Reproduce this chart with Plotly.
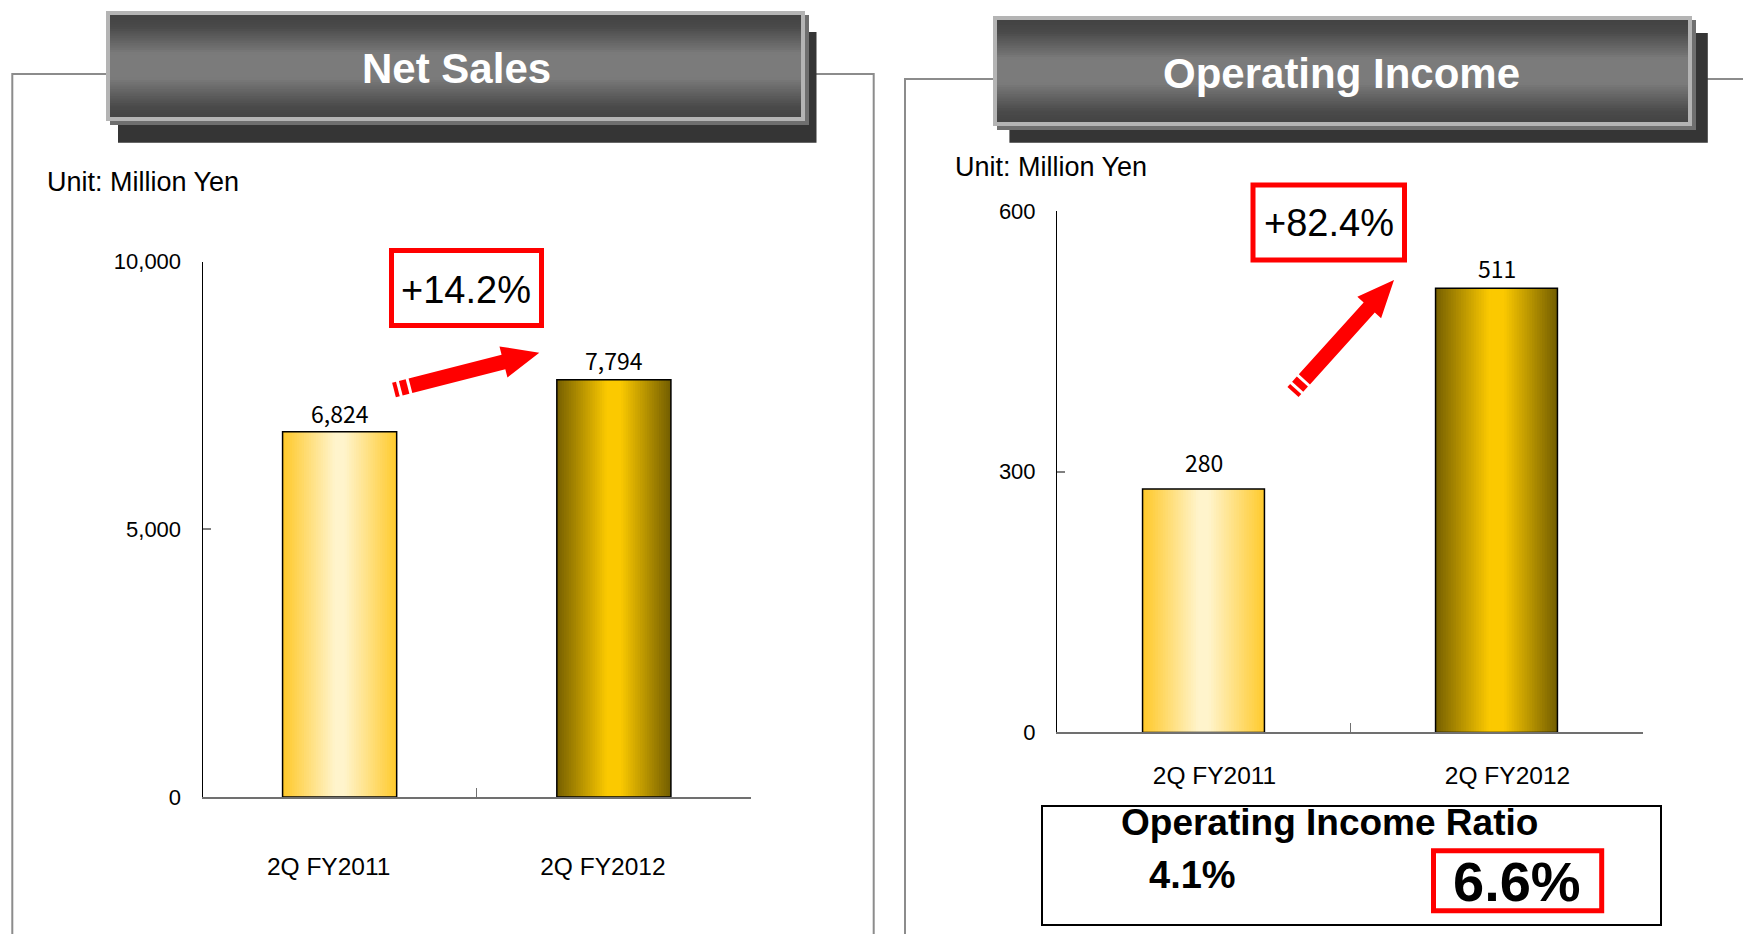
import math
import plotly.graph_objects as go

# ---------------- data ----------------
categories = ["2Q FY2011", "2Q FY2012"]
net_sales = [6824, 7794]
operating_income = [280, 511]
net_sales_labels = ["6,824", "7,794"]
op_income_labels = ["280", "511"]
net_sales_growth = "+14.2%"
op_income_growth = "+82.4%"
ratio_title = "Operating Income Ratio"
op_income_ratio = ["4.1%", "6.6%"]
net_sales_ticks = [0, 5000, 10000]
op_income_ticks = [0, 300, 600]
unit_label = "Unit: Million Yen"
panel_titles = ["Net Sales", "Operating Income"]

# ---------------- helpers / styles ----------------
W, H = 1751, 934
OFF = 8  # page body margin compensation
FONT = "Liberation Sans, Arial, sans-serif"
NUMFONT = "Noto Sans CJK JP, Liberation Sans, sans-serif"


def px(x):
    return (x - OFF) / W


def py(y):
    return 1 - (y - OFF) / H


def hex2rgb(h):
    h = h.lstrip("#")
    return tuple(int(h[i:i + 2], 16) for i in (0, 2, 4))


def interp(stops, t):
    for (t0, c0), (t1, c1) in zip(stops[:-1], stops[1:]):
        if t0 <= t <= t1:
            a = 0 if t1 == t0 else (t - t0) / (t1 - t0)
            r0, g0, b0 = hex2rgb(c0)
            r1, g1, b1 = hex2rgb(c1)
            return "rgb(%d,%d,%d)" % (round(r0 + (r1 - r0) * a),
                                      round(g0 + (g1 - g0) * a),
                                      round(b0 + (b1 - b0) * a))
    return stops[-1][1]


GRAD_LIGHT = [(0, "#FFC828"), (0.46, "#FFF4CC"), (0.54, "#FFF4CC"), (1, "#FFCA2C")]
GRAD_DARK = [(0, "#766000"), (0.44, "#FBC900"), (0.56, "#FBC900"), (1, "#725D00")]
GRAD_TITLE = [(0, "#424242"), (0.12, "#4a4a4a"), (0.38, "#7b7b7b"),
              (0.62, "#7b7b7b"), (0.9, "#4a4a4a"), (1, "#444444")]
BAR_W = 0.416
N_SLICES = 48

fig = go.Figure()


def add_gradient_bars(xs, ys, xa, ya):
    step = BAR_W / N_SLICES
    for i in range(N_SLICES):
        t = (i + 0.5) / N_SLICES
        off = -BAR_W / 2 + i * step
        wdt = min(step * 1.8, BAR_W / 2 - off)
        fig.add_trace(go.Bar(
            x=xs, y=ys, offset=off, width=wdt,
            marker=dict(color=[interp(GRAD_LIGHT, t), interp(GRAD_DARK, t)],
                        line=dict(width=0)),
            xaxis=xa, yaxis=ya, showlegend=False, hoverinfo="skip"))
    fig.add_trace(go.Bar(
        x=xs, y=ys, offset=-BAR_W / 2, width=BAR_W,
        marker=dict(color="rgba(0,0,0,0)", line=dict(color="black", width=1.5)),
        xaxis=xa, yaxis=ya, showlegend=False, hoverinfo="skip"))


add_gradient_bars(categories, net_sales, "x", "y")
add_gradient_bars(categories, operating_income, "x2", "y2")

shapes = []
annotations = []


def rect(x0, y0, x1, y1, fill=None, line=None, lw=0):
    shapes.append(dict(type="rect", xref="paper", yref="paper",
                       x0=px(x0), x1=px(x1), y0=py(y1), y1=py(y0),
                       fillcolor=fill if fill else "rgba(0,0,0,0)",
                       line=dict(color=line if line else "rgba(0,0,0,0)", width=lw)))


def text(x, y, s, size, color="black", family=FONT, xanchor="center", yanchor="middle"):
    annotations.append(dict(xref="paper", yref="paper", x=px(x), y=py(y), text=s,
                            showarrow=False, xanchor=xanchor, yanchor=yanchor,
                            font=dict(family=family, size=size, color=color)))


def title_box(x0, y0, x1, y1, shadow, label, cx, cy):
    sx0, sy0, sx1, sy1 = shadow
    rect(sx0, sy0, sx1, sy1, fill="#353535")
    rect(x0 + 4, y0 + 4, x1 + 4, y1 + 4, fill="#6f6f6f")
    rect(x0, y0, x1, y1, fill="#B4B4B4")
    ix0, iy0, ix1, iy1 = x0 + 4, y0 + 4, x1 - 4, y1 - 4
    n = 44
    hstep = (iy1 - iy0) / n
    for i in range(n):
        t = (i + 0.5) / n
        ya = iy0 + i * hstep
        yb = min(iy1, ya + hstep * 1.8)
        rect(ix0, ya, ix1, yb, fill=interp(GRAD_TITLE, t))
    text(cx, cy, "<b>%s</b>" % label, 42, color="white")


def arrow(tail, tip, shaft_w, head_w, head_len):
    dx, dy = tip[0] - tail[0], tip[1] - tail[1]
    L = math.hypot(dx, dy)
    ux, uy = dx / L, dy / L
    nx, ny = -uy, ux

    def pt(s, o):
        return (tail[0] + ux * s + nx * o, tail[1] + uy * s + ny * o)

    def poly(pts):
        d = "M " + " L ".join("%.5f,%.5f" % (px(a), py(b)) for a, b in pts) + " Z"
        shapes.append(dict(type="path", xref="paper", yref="paper", path=d,
                           fillcolor="#FF0000", line=dict(width=0)))

    hw = shaft_w / 2
    for s0, s1 in [(0, 4), (7, 14)]:
        poly([pt(s0, -hw), pt(s1, -hw), pt(s1, hw), pt(s0, hw)])
    sb = L - head_len
    poly([pt(17, -hw), pt(sb, -hw), pt(sb, -head_w / 2), pt(L, 0),
          pt(sb, head_w / 2), pt(sb, hw), pt(17, hw)])


# panel frames
rect(12.3, 74, 873.7, 1000, line="#8c8c8c", lw=2)
rect(905, 79, 1850, 1000, line="#8c8c8c", lw=2)

# title boxes
title_box(106, 11, 805, 121, (118, 32, 816.5, 142.7), panel_titles[0], 456, 68.3)
title_box(993, 16, 1692, 126, (1009.4, 33, 1707.8, 142.7), panel_titles[1], 1341.5, 73.3)

# unit labels
text(44.5, 181.7, unit_label, 27, xanchor="left")
text(953, 166.7, unit_label, 27, xanchor="left")

# growth boxes
rect(391.5, 250.5, 541.5, 325.5, line="#FF0000", lw=5)
text(465.8, 290, net_sales_growth, 38)
rect(1253, 185, 1404.5, 260, line="#FF0000", lw=5)
text(1328.6, 223, op_income_growth, 38)

# arrows
arrow((394, 390), (539.3, 352.7), 15, 32, 37)
arrow((1293, 392), (1394, 280), 15, 32, 37)

# operating income ratio box
rect(1042, 806, 1661, 925, line="black", lw=2)
text(1329, 822.5, "<b>%s</b>" % ratio_title, 37)
text(1192.5, 874.5, "<b>%s</b>" % op_income_ratio[0], 38)
rect(1433.5, 850.8, 1601.7, 910.8, line="#FF0000", lw=5)
text(1517, 881.5, "<b>%s</b>" % op_income_ratio[1], 56)

# bar value labels (data coordinates)
LABEL_SHIFT_LEFT = [19, 20]
LABEL_SHIFT_RIGHT = [27, 20]
for c, v, s, sh in zip(categories, net_sales, net_sales_labels, LABEL_SHIFT_LEFT):
    annotations.append(dict(xref="x", yref="y", x=c, y=v, text=s, showarrow=False,
                            yanchor="middle", yshift=sh,
                            font=dict(family=NUMFONT, size=23, color="black")))
for c, v, s, sh in zip(categories, operating_income, op_income_labels, LABEL_SHIFT_RIGHT):
    annotations.append(dict(xref="x2", yref="y2", x=c, y=v, text=s, showarrow=False,
                            yanchor="middle", yshift=sh,
                            font=dict(family=NUMFONT, size=23, color="black")))

xcommon = dict(type="category", range=[-0.5, 1.5], showline=True, linecolor="#707070",
               linewidth=2, ticks="inside", tickson="boundaries", ticklen=9,
               tickcolor="#707070", tickwidth=1, showgrid=False, zeroline=False,
               automargin=False,
               tickfont=dict(family=FONT, size=24.5, color="black"), fixedrange=True)
ycommon = dict(showline=True, linecolor="black", linewidth=1, ticks="inside", ticklen=8,
               tickcolor="#808080", tickwidth=2, showgrid=False, zeroline=False,
               tickformat=",", ticklabelstandoff=16, automargin=False,
               tickfont=dict(family=FONT, size=22, color="black"), fixedrange=True)

fig.update_layout(
    width=W, height=H, autosize=False, margin=dict(l=0, r=0, t=0, b=0, pad=0),
    paper_bgcolor="white", plot_bgcolor="rgba(0,0,0,0)",
    barmode="overlay", showlegend=False,
    xaxis=dict(domain=[px(202.5), px(751)], anchor="y", ticklabelstandoff=47,
               ticklabelshift=-11, **xcommon),
    yaxis=dict(domain=[py(797), py(261.6)], anchor="x", range=[0, 10000],
               tickvals=net_sales_ticks, **ycommon),
    xaxis2=dict(domain=[px(1057), px(1643)], anchor="y2", ticklabelstandoff=20,
                ticklabelshift=11, **xcommon),
    yaxis2=dict(domain=[py(732.4), py(211)], anchor="x2", range=[0, 600],
                tickvals=op_income_ticks, **ycommon),
    shapes=shapes, annotations=annotations,
)

fig.write_html("out.html")
